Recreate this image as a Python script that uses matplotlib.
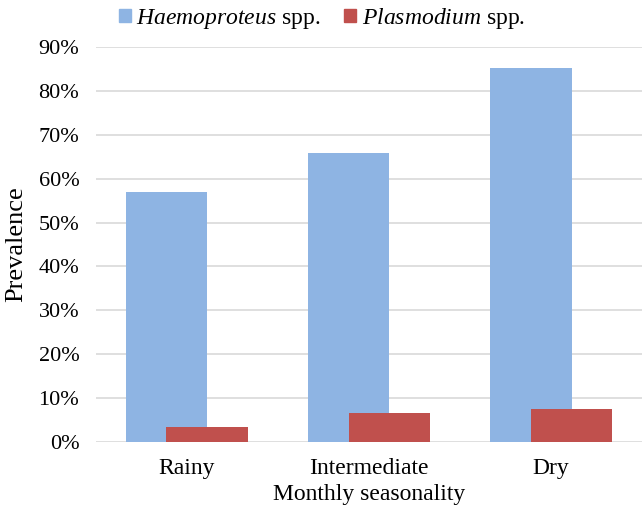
import numpy as np
import matplotlib.pyplot as plt
from matplotlib.patches import Patch

categories = ['Rainy', 'Intermediate', 'Dry']
haemoproteus = [0.569, 0.658, 0.852]
plasmodium = [0.034, 0.065, 0.074]
series_names = ['$\\it{Haemoproteus}$ spp.', '$\\it{Plasmodium}$ spp.']
yticks = np.arange(0, 1.0, 0.1)

plt.rcParams['font.family'] = 'Liberation Serif'
plt.rcParams['mathtext.fontset'] = 'custom'
plt.rcParams['mathtext.it'] = 'Liberation Serif:italic'
plt.rcParams['mathtext.rm'] = 'Liberation Serif'

blue = '#8EB4E3'
red = '#C0504D'

fig = plt.figure()
fig.set_size_inches(6.44, 5.17)
ax = fig.add_axes([0.149, 0.1456, 0.848, 0.763])

x = np.arange(len(categories))
width = 0.45
ax.bar(x - width / 4, haemoproteus, width, color=blue, zorder=2)
ax.bar(x + width / 4, plasmodium, width, color=red, zorder=3)

ax.set_xlim(-0.5, len(categories) - 0.5)
ax.set_ylim(0, 0.9)
ax.set_yticks(yticks)
ax.set_yticklabels(['%d%%' % round(v * 100) for v in yticks], fontsize=16)
ax.set_xticks(x)
ax.set_xticklabels(categories, fontsize=17)
ax.tick_params(length=0)
ax.tick_params(axis='y', pad=12)
ax.tick_params(axis='x', pad=12)
ax.grid(axis='y', color='#D9D9D9', linewidth=1.2, zorder=0)
for s in ax.spines.values():
    s.set_visible(False)

ax.set_ylabel('Prevalence', fontsize=19, labelpad=8)
ax.set_xlabel('Monthly seasonality', fontsize=17, labelpad=3)

handles = [Patch(color=blue), Patch(color=red)]
fig.legend(handles, series_names, loc='upper center', bbox_to_anchor=(0.5, 1.03),
           ncol=2, frameon=False, fontsize=17, handlelength=0.5, handleheight=0.5,
           handletextpad=0.25, columnspacing=1.0)

plt.savefig('out.png', dpi=100)
plt.close()
